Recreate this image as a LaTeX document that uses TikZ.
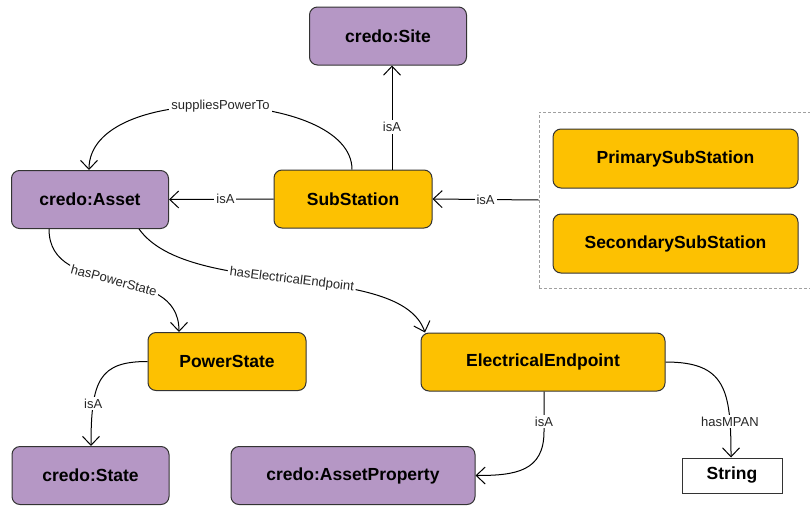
\documentclass[tikz,border=0pt]{standalone}
\usepackage{fontspec}
\setmainfont{Liberation Sans}
\usetikzlibrary{arrows.meta}
\definecolor{purp}{HTML}{B597C5}
\definecolor{yel}{HTML}{FDC101}
\definecolor{bord}{HTML}{333333}
\definecolor{dashgray}{HTML}{A0A0A0}
\tikzset{
  box/.style={draw=bord, line width=1pt, rounded corners=8pt, minimum width=157pt, minimum height=58pt,
    font=\fontsize{17.5}{21}\bfseries\selectfont, inner sep=0pt},
  pbox/.style={box, fill=purp},
  ybox/.style={box, fill=yel},
  wbox/.style={draw=bord, line width=1pt, fill=white, minimum width=100pt, minimum height=35pt,
    font=\fontsize{17.5}{21}\bfseries\selectfont, inner sep=0pt},
  grpbox/.style={draw=dashgray, dash pattern=on 3pt off 2pt, line width=0.8pt, minimum width=273pt, minimum height=176pt, inner sep=0pt},
  conn/.style={line width=1pt, draw=black, -{Straight Barb[length=9pt,width=17pt,line width=1pt]}},
  lbl/.style={fill=white, font=\fontsize{13}{15}\selectfont, inner sep=2pt, text=black!85}
}
\begin{document}
\begin{tikzpicture}[x=1pt,y=-1pt]
\useasboundingbox (0,0) rectangle (810,506);
% nodes
\node[pbox] (site) at (388,36) {credo:Site};
\node[pbox] (asset) at (90,199.5) {credo:Asset};
\node[ybox, minimum width=158pt] (sub) at (353,199) {SubStation};
\node[grpbox] (grp) at (675.5,200) {};
\node[ybox, minimum width=245pt, minimum height=59pt] (prim) at (675.5,158.5) {PrimarySubStation};
\node[ybox, minimum width=245pt, minimum height=59pt] (sec) at (675.5,243.5) {SecondarySubStation};
\node[ybox, minimum width=158pt] (pstate) at (227,361.5) {PowerState};
\node[ybox, minimum width=244pt] (ee) at (543,362) {ElectricalEndpoint};
\node[pbox] (state) at (90.5,475.5) {credo:State};
\node[pbox, minimum width=244pt] (aprop) at (353,475.5) {credo:AssetProperty};
\node[wbox] (str) at (732,475.5) {String};
% edges
\draw[conn] ([xshift=39pt]sub.north) -- node[lbl, pos=0.41]{isA} ([xshift=4pt]site.south);
\draw[conn] (sub.west) -- node[lbl, pos=0.46]{isA} (asset.east);
\draw[conn] (grp.west) -- node[lbl]{isA} (sub.east);
\draw[conn] ([xshift=-1pt]sub.north) .. controls +(0,-80) and +(0,-90) .. node[lbl, pos=0.5]{suppliesPowerTo} ([xshift=-1pt]asset.north);
\draw[conn] ([xshift=-41pt]asset.south) .. controls +(0,71) and +(0,-72) .. node[lbl, pos=0.5, rotate=-15]{hasPowerState} ([xshift=-48pt]pstate.north);
\draw[conn] ([xshift=49pt]asset.south) .. controls +(51,71) and +(-25,-73) .. node[lbl, pos=0.5, rotate=-7]{hasElectricalEndpoint} ([xshift=-118pt]ee.north);
\draw[conn] (pstate.west) .. controls +(-48,0) and +(0,-66) .. node[lbl, pos=0.74]{isA} ([xshift=0.5pt]state.north);
\draw[conn] ([xshift=1pt]ee.south) -- ++(0,40) node[lbl, pos=0.75]{isA} .. controls +(0,40) and +(40,0) .. (aprop.east);
\draw[conn] (ee.east) .. controls +(60,0) and +(0,-68) .. node[lbl, pos=0.8]{hasMPAN} ([xshift=-1pt]str.north);
\end{tikzpicture}
\end{document}
